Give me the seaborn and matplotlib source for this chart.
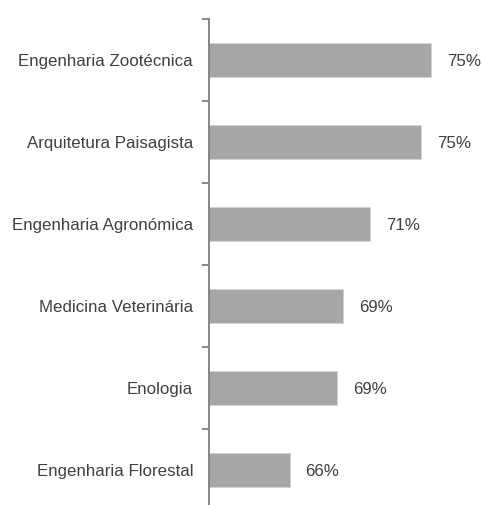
import matplotlib
matplotlib.use("Agg")
import matplotlib.pyplot as plt
import seaborn as sns
import pandas as pd

categories = ["Engenharia Zootécnica", "Arquitetura Paisagista", "Engenharia Agronómica",
              "Medicina Veterinária", "Enologia", "Engenharia Florestal"]
values = [75.4, 74.7, 71.2, 69.3, 68.9, 65.6]

sns.set_theme(style="white")
plt.rcParams['font.family'] = ["Liberation Sans", 'DejaVu Sans']

df = pd.DataFrame({"curso": categories, "valor": values})

fig = plt.figure(figsize=(4.83, 5.05), dpi=100)
W, H = 483, 505
left_px, right_px, top_px, bot_px = 209, 483, 19, 511
ax = fig.add_axes([left_px / W, 1 - bot_px / H, (right_px - left_px) / W, (bot_px - top_px) / H])

sns.barplot(data=df, y="curso", x="valor", orient="h", color="#A6A6A6", saturation=1,
            width=0.41, edgecolor="#D4D4D4", linewidth=0.6, ax=ax)

xmin = 60
ax.set_xlim(xmin, xmin + (right_px - left_px) / 14.4)
ax.set_ylim(len(categories) - 0.5, -0.5)

for s in ["top", "right", "bottom"]:
    ax.spines[s].set_visible(False)
ax.spines["left"].set_color("#868686")
ax.spines["left"].set_linewidth(1.4)
ax.set_xticks([])
ax.set_xlabel("")
ax.set_ylabel("")
ax.tick_params(axis="y", which="major", left=True, length=0, pad=11.5, labelsize=12.2,
               labelcolor="#404040")
ax.set_yticks([i - 0.5 for i in range(len(categories) + 1)], minor=True)
ax.tick_params(axis="y", which="minor", left=True, length=5, width=1.4, color="#868686",
               direction="out")
for lab in ax.get_yticklabels():
    lab.set_verticalalignment("center_baseline")

for i, v in enumerate(values):
    ax.annotate(f"{v:.0f}%", xy=(v, i), xytext=(11.5, 0), textcoords="offset points",
                va="center_baseline", ha="left", fontsize=12.2, color="#404040")

fig.savefig("out.png", dpi=100)
